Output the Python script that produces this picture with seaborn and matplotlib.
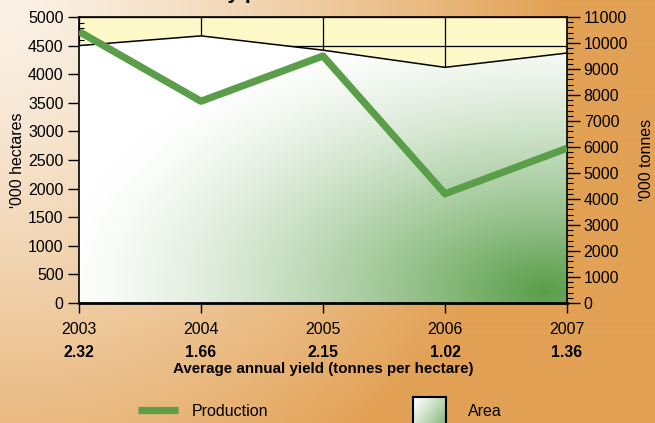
import numpy as np
import pandas as pd
import seaborn as sns
import matplotlib.pyplot as plt
from matplotlib.colors import to_rgb
from matplotlib.lines import Line2D
from matplotlib.ticker import MultipleLocator

# data
years = [2003, 2004, 2005, 2006, 2007]
area = [4500, 4670, 4420, 4120, 4370]          # '000 hectares
production = [10440, 7760, 9500, 4200, 5950]   # '000 tonnes
yields = ['2.32', '1.66', '2.15', '1.02', '1.36']

df = pd.DataFrame({'year': years, 'area': area, 'production': production})

GREEN = '#5a9e4a'
W, H = 655, 423

sns.set_style('white')
plt.rcParams['font.family'] = ['Liberation Sans', 'DejaVu Sans']
for k in ['text.color', 'axes.labelcolor', 'xtick.color', 'ytick.color', 'axes.edgecolor']:
    plt.rcParams[k] = 'black'


def blend(c0, c1, t):
    c0, c1 = np.array(to_rgb(c0)), np.array(to_rgb(c1))
    return c0 + (c1 - c0) * t[..., None]


fig = plt.figure(figsize=(W / 100, H / 100), dpi=100)

# orange backdrop, light in the top-left corner
bg = fig.add_axes([0, 0, 1, 1], zorder=-10)
yy, xx = np.mgrid[0:H, 0:W]
t = np.clip(np.hypot(xx, yy) / 560, 0, 1) ** 1.3
bg.imshow(blend('#fbf2e7', '#e2a154', t), extent=[0, 1, 0, 1], aspect='auto')
bg.set_xlim(0, 1)
bg.set_ylim(0, 1)
bg.axis('off')

ax = fig.add_axes([79 / W, 1 - 303 / H, (567 - 79) / W, (303 - 17) / H])
ax.set_facecolor('#fff8c8')

# green shading for the area polygon, darkest bottom-right
pw, ph = 488, 286
v, u = np.mgrid[0:ph, 0:pw]
u = u / pw
v = 1 - v / ph
r = np.hypot((u - 0.955) / 1.0, (v - 0.045) / 0.95)
w = np.clip(1 - r, 0, 1) ** 1.4
shade = blend('#ffffff', GREEN, w)

poly = ax.fill_between(df['year'], df['area'], color='none', lw=0)
img = ax.imshow(shade, extent=[2003, 2007, 0, 5000], aspect='auto', zorder=1)
img.set_clip_path(poly.get_paths()[0], ax.transData)
sns.lineplot(data=df, x='year', y='area', ax=ax, color='black', lw=1.1, zorder=3)

ax.set_xlim(2003, 2007)
ax.set_ylim(0, 5000)
ax.set_xticks(years)
ax.set_xticklabels([str(y) for y in years])
ax.yaxis.set_major_locator(MultipleLocator(500))
ax.yaxis.set_minor_locator(MultipleLocator(100))
ax.grid(True, color='black', lw=0.9)
ax.set_axisbelow(True)
ax.tick_params(axis='y', which='major', left=True, direction='out', length=8, width=1, labelsize=11.5, pad=3)
ax.tick_params(axis='y', which='minor', left=True, direction='in', length=3.5, width=0.8)
ax.tick_params(axis='x', which='major', bottom=True, direction='out', length=7, width=1, labelsize=11.5, pad=7)
ax.set_xlabel('')
ax.set_ylabel("'000 hectares", fontsize=11.5, labelpad=2)
for s in ax.spines.values():
    s.set_linewidth(1.2)
ax.spines['bottom'].set_linewidth(2)

ax2 = ax.twinx()
sns.lineplot(data=df, x='year', y='production', ax=ax2, color=GREEN, lw=5.2, solid_capstyle='butt')
ax2.set_ylim(0, 11000)
ax2.set_xlim(2003, 2007)
ax2.yaxis.set_major_locator(MultipleLocator(1000))
ax2.yaxis.set_minor_locator(MultipleLocator(200))
ax2.tick_params(axis='y', which='major', right=True, left=False, direction='out', length=9, width=1, labelsize=11.5, pad=3)
ax2.tick_params(axis='y', which='minor', right=True, left=False, direction='out', length=4, width=0.8)
ax2.set_ylabel("'000 tonnes", fontsize=11.5, labelpad=8, rotation=90)
ax2.set_xlabel('')
for s in ax2.spines.values():
    s.set_visible(False)

# yields under the years
sec = ax.secondary_xaxis('bottom')
sec.set_xticks(years, labels=yields)
sec.tick_params(length=0, pad=30, labelsize=11.3)
for lbl in sec.get_xticklabels():
    lbl.set_fontweight('bold')
sec.spines['bottom'].set_visible(False)
sec.set_xlabel('Average annual yield (tonnes per hectare)', fontweight='bold', fontsize=10.9, labelpad=2)

# title, cut off by the top edge
fig.text(159 / W, 1 + 1 / H, 'Country production', fontsize=15, fontweight='bold', va='baseline')

# legend
fig.add_artist(Line2D([138 / W, 178 / W], [1 - 410 / H] * 2, color=GREEN, lw=5.2, solid_capstyle='butt'))
fig.text(192 / W, 1 - 411 / H, 'Production', va='center', fontsize=11.5)
sw = fig.add_axes([413 / W, 1 - 440 / H, 33 / W, 43 / H])
sv, su = np.mgrid[0:40, 0:30]
sw.imshow(blend('#ffffff', GREEN, np.clip((su / 30 + sv / 40) / 2, 0, 1) ** 1.2), aspect='auto')
sw.set_xticks([])
sw.set_yticks([])
for s in sw.spines.values():
    s.set_linewidth(1.5)
    s.set_color('black')
fig.text(468 / W, 1 - 411 / H, 'Area', va='center', fontsize=11.5)

fig.savefig('out.png', dpi=100)
